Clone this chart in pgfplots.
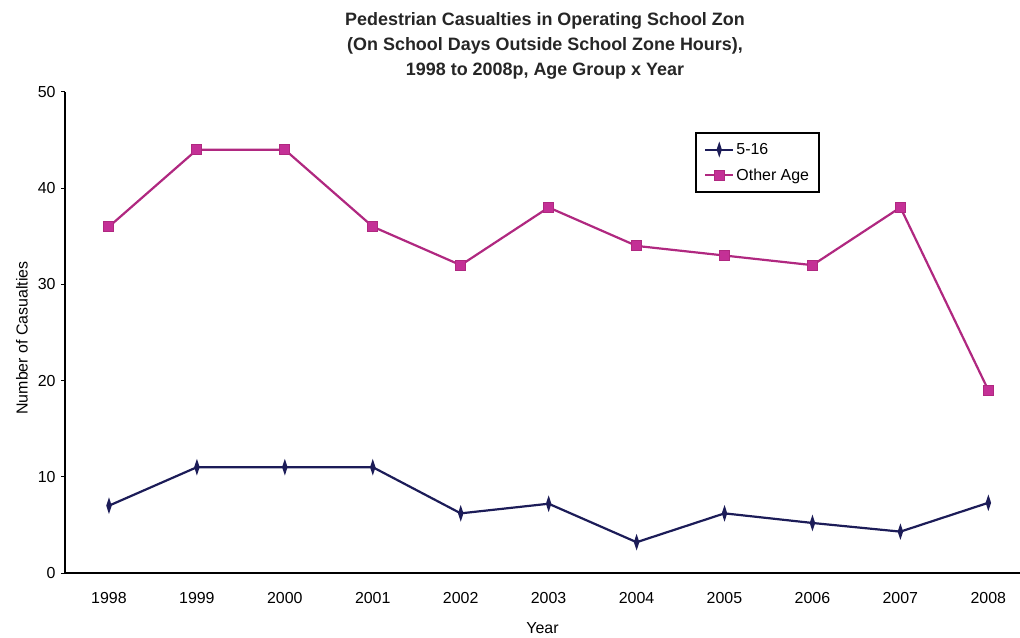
\documentclass[border=0pt]{standalone}
\usepackage{pgfplots}
\pgfplotsset{compat=1.18}
\usepackage{fontspec}
\setmainfont{Liberation Sans}
\definecolor{navyc}{RGB}{28,28,88}
\definecolor{magc}{RGB}{176,40,128}
\definecolor{magm}{RGB}{196,48,150}
\begin{document}
\begin{tikzpicture}
\path[use as bounding box] (-65bp,-65bp) rectangle (955bp,573bp);
\begin{axis}[
  scale only axis,
  width=955bp, height=481bp,
  xmin=1997.5, xmax=2008.36,
  ymin=0, ymax=50,
  axis lines=left,
  axis line style={line width=1.5bp, -},
  xtick={1998,...,2008},
  xticklabels={1998,1999,2000,2001,2002,2003,2004,2005,2006,2007,2008},
  x tick style={draw=none},
  ytick={0,10,20,30,40,50},
  y tick style={black, line width=1bp},
  tick align=outside,
  major tick length=4bp,
  tick label style={font=\fontsize{16}{18}\selectfont},
  xticklabel style={yshift=-12bp},
  yticklabel style={xshift=-2bp},
  /pgf/number format/assume math mode=true,
  xlabel={Year},
  ylabel={Number of Casualties},
  label style={font=\fontsize{16}{18}\selectfont},
  xlabel style={at={(0.5,0)}, anchor=center, yshift=-55bp},
  ylabel style={at={(0,0.484)}, anchor=center, rotate=0, yshift=-4bp},
  every axis y label/.append style={at={(-47bp,235bp)}},
  legend style={at={(630bp,380bp)}, anchor=south west, draw=black, line width=2.2bp,
    font=\fontsize{16}{18}\selectfont, row sep=9bp, inner xsep=8bp, inner ysep=8bp,
    nodes={inner sep=2bp}},
  legend cell align=left,
  legend image code/.code={
    \draw[mark repeat=2, mark phase=2, line width=2bp] plot coordinates {(0cm,0cm) (0.5cm,0cm) (1.0cm,0cm)};},
  clip=false,
]
\addplot[navyc, line width=2.2bp, mark=diamond*, mark size=3bp,
  mark options={xscale=0.7, yscale=1.6, fill=navyc, draw=navyc}]
  coordinates {(1998,7)(1999,11)(2000,11)(2001,11)(2002,6.2)(2003,7.2)(2004,3.2)(2005,6.2)(2006,5.2)(2007,4.3)(2008,7.3)};
\addlegendentry{5-16}
\addplot[magc, line width=2.2bp, mark=square*, mark size=5bp,
  mark options={fill=magm, draw=magc, line width=1bp}]
  coordinates {(1998,36)(1999,44)(2000,44)(2001,36)(2002,32)(2003,38)(2004,34)(2005,33)(2006,32)(2007,38)(2008,19)};
\addlegendentry{Other Age}
\end{axis}
\node[align=center, font=\fontsize{18}{25.5}\selectfont\bfseries, text=black!85] at (480bp,527bp)
  {Pedestrian Casualties in Operating School Zon\\
   (On School Days Outside School Zone Hours),\\
   1998 to 2008p, Age Group x Year};
\end{tikzpicture}
\end{document}
